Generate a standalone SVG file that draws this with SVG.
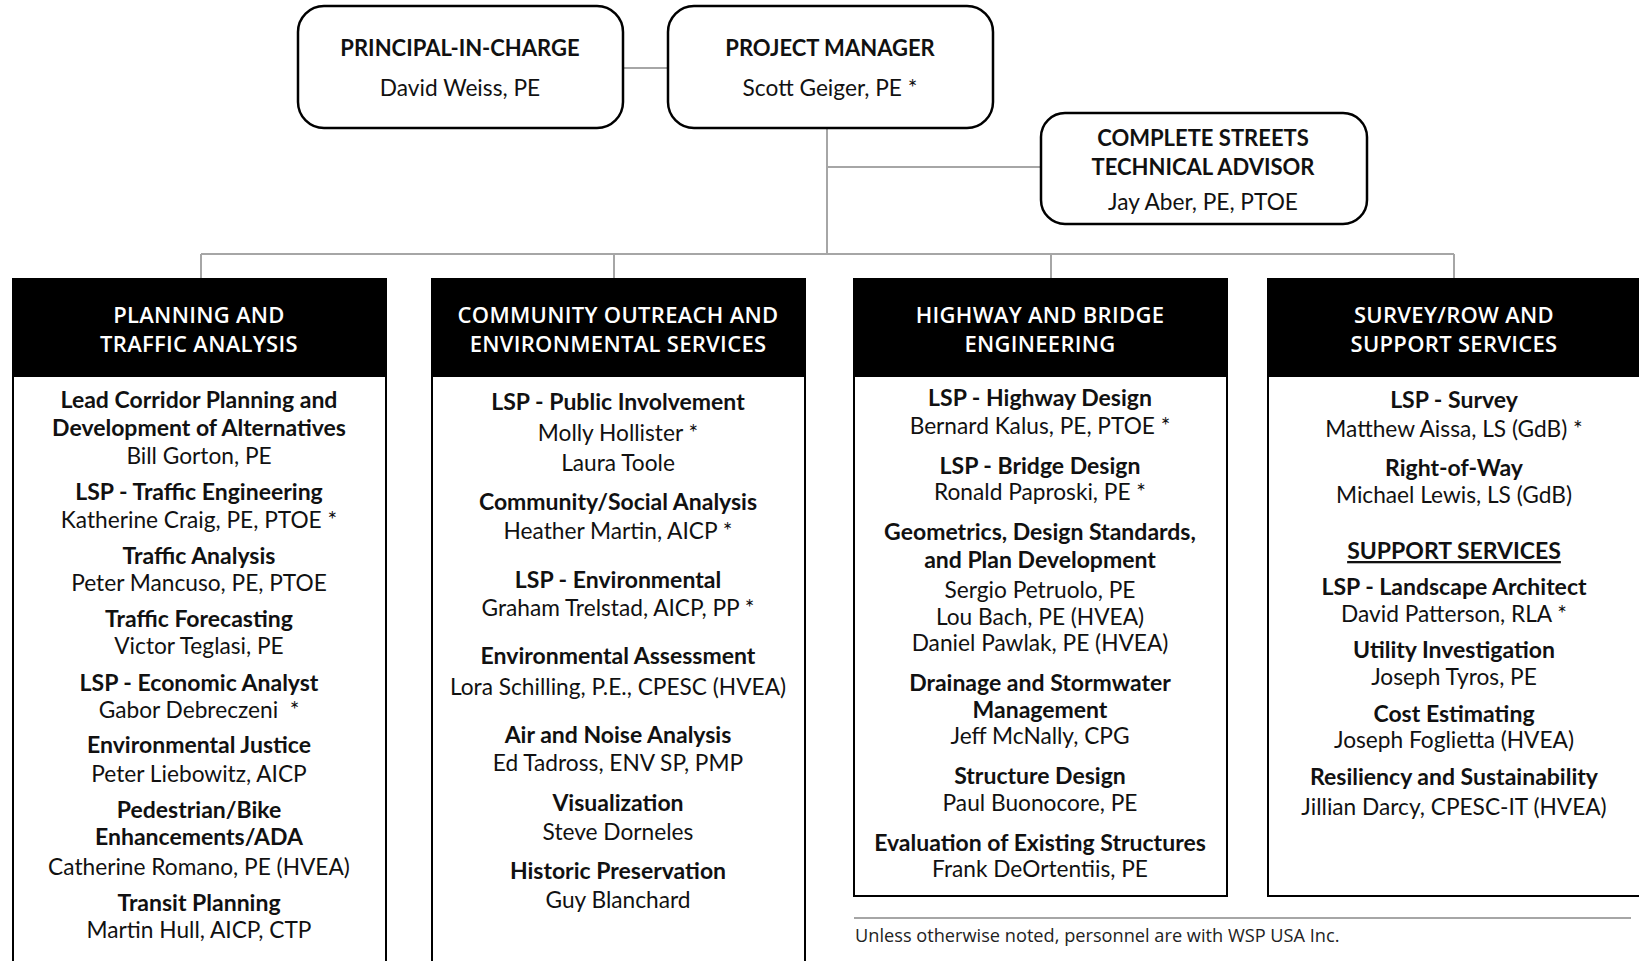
<svg xmlns="http://www.w3.org/2000/svg" width="1639" height="961" viewBox="0 0 1639 961">
<style>
.bg{fill:#fff}
.rbox{fill:#fff;stroke:#000;stroke-width:2.5}
.col{fill:#fff;stroke:#000;stroke-width:2}
.hdr{fill:#000}
.conn{stroke:#a6a6a6;stroke-width:2;fill:none}
text{font-family:Lato,"Liberation Sans",sans-serif;text-anchor:middle;fill:#111}
.t{font-size:23px;font-weight:700}
.n{font-size:22.7px;font-weight:400}
.h{font-family:"Open Sans","Liberation Sans",sans-serif;font-size:22px;font-weight:600;fill:#fff;letter-spacing:0.3px}
.tt{font-size:22px;font-weight:700}
.foot{font-family:"Open Sans","Liberation Sans",sans-serif;font-size:18.2px;text-anchor:start;fill:#222}
</style>
<rect class="bg" width="1639" height="961"/>
<g id="connectors">
<line class="conn" x1="623" y1="68" x2="668" y2="68"/>
<line class="conn" x1="827" y1="128" x2="827" y2="254"/>
<line class="conn" x1="827" y1="167" x2="1041" y2="167"/>
<line class="conn" x1="201" y1="254" x2="1454" y2="254"/>
<line class="conn" x1="201" y1="254" x2="201" y2="279"/>
<line class="conn" x1="614" y1="254" x2="614" y2="279"/>
<line class="conn" x1="1051" y1="254" x2="1051" y2="279"/>
<line class="conn" x1="1454" y1="254" x2="1454" y2="279"/>
<line class="conn" x1="854" y1="918" x2="1631" y2="918"/>
</g>
<g id="principal">
<rect class="rbox" x="298" y="6" width="325" height="122" rx="26"/>
<text class="tt" x="460" y="56">PRINCIPAL-IN-CHARGE</text>
<text class="n" x="460" y="96">David Weiss, PE</text>
</g>
<g id="project-manager">
<rect class="rbox" x="668" y="6" width="325" height="122" rx="26"/>
<text class="tt" x="830" y="56">PROJECT MANAGER</text>
<text class="n" x="830" y="96">Scott Geiger, PE *</text>
</g>
<g id="complete-streets">
<rect class="rbox" x="1041" y="113" width="326" height="111" rx="24"/>
<text class="tt" x="1203" y="146">COMPLETE STREETS</text>
<text class="tt" x="1203" y="175">TECHNICAL ADVISOR</text>
<text class="n" x="1203" y="210">Jay Aber, PE, PTOE</text>
</g>
<g id="planning">
<rect class="col" x="13" y="279" width="373" height="700"/>
<rect class="hdr" x="13" y="279" width="373" height="98"/>
<text class="h" x="199" y="323">PLANNING AND</text>
<text class="h" x="199" y="352">TRAFFIC ANALYSIS</text>
<text class="t" x="199" y="408">Lead Corridor Planning and</text>
<text class="t" x="199" y="436">Development of Alternatives</text>
<text class="n" x="199" y="464">Bill Gorton, PE</text>
<text class="t" x="199" y="500">LSP - Traffic Engineering</text>
<text class="n" x="199" y="528">Katherine Craig, PE, PTOE *</text>
<text class="t" x="199" y="564">Traffic Analysis</text>
<text class="n" x="199" y="591">Peter Mancuso, PE, PTOE</text>
<text class="t" x="199" y="627">Traffic Forecasting</text>
<text class="n" x="199" y="654">Victor Teglasi, PE</text>
<text class="t" x="199" y="691">LSP - Economic Analyst</text>
<text class="n" x="199" y="718" xml:space="preserve">Gabor Debreczeni  *</text>
<text class="t" x="199" y="753">Environmental Justice</text>
<text class="n" x="199" y="782">Peter Liebowitz, AICP</text>
<text class="t" x="199" y="818">Pedestrian/Bike</text>
<text class="t" x="199" y="845">Enhancements/ADA</text>
<text class="n" x="199" y="875">Catherine Romano, PE (HVEA)</text>
<text class="t" x="199" y="911">Transit Planning</text>
<text class="n" x="199" y="938">Martin Hull, AICP, CTP</text>
</g>
<g id="community">
<rect class="col" x="432" y="279" width="373" height="700"/>
<rect class="hdr" x="432" y="279" width="373" height="98"/>
<text class="h" x="618" y="323">COMMUNITY OUTREACH AND</text>
<text class="h" x="618" y="352">ENVIRONMENTAL SERVICES</text>
<text class="t" x="618" y="410">LSP - Public Involvement</text>
<text class="n" x="618" y="441">Molly Hollister *</text>
<text class="n" x="618" y="471">Laura Toole</text>
<text class="t" x="618" y="510">Community/Social Analysis</text>
<text class="n" x="618" y="539">Heather Martin, AICP *</text>
<text class="t" x="618" y="588">LSP - Environmental</text>
<text class="n" x="618" y="616">Graham Trelstad, AICP, PP *</text>
<text class="t" x="618" y="664">Environmental Assessment</text>
<text class="n" x="618" y="695">Lora Schilling, P.E., CPESC (HVEA)</text>
<text class="t" x="618" y="743">Air and Noise Analysis</text>
<text class="n" x="618" y="771">Ed Tadross, ENV SP, PMP</text>
<text class="t" x="618" y="811">Visualization</text>
<text class="n" x="618" y="840">Steve Dorneles</text>
<text class="t" x="618" y="879">Historic Preservation</text>
<text class="n" x="618" y="908">Guy Blanchard</text>
</g>
<g id="highway">
<rect class="col" x="854" y="279" width="373" height="617"/>
<rect class="hdr" x="854" y="279" width="373" height="98"/>
<text class="h" x="1040" y="323">HIGHWAY AND BRIDGE</text>
<text class="h" x="1040" y="352">ENGINEERING</text>
<text class="t" x="1040" y="406">LSP - Highway Design</text>
<text class="n" x="1040" y="434">Bernard Kalus, PE, PTOE *</text>
<text class="t" x="1040" y="474">LSP - Bridge Design</text>
<text class="n" x="1040" y="500">Ronald Paproski, PE *</text>
<text class="t" x="1040" y="540">Geometrics, Design Standards,</text>
<text class="t" x="1040" y="568">and Plan Development</text>
<text class="n" x="1040" y="598">Sergio Petruolo, PE</text>
<text class="n" x="1040" y="625">Lou Bach, PE (HVEA)</text>
<text class="n" x="1040" y="651">Daniel Pawlak, PE (HVEA)</text>
<text class="t" x="1040" y="691">Drainage and Stormwater</text>
<text class="t" x="1040" y="718">Management</text>
<text class="n" x="1040" y="744">Jeff McNally, CPG</text>
<text class="t" x="1040" y="784">Structure Design</text>
<text class="n" x="1040" y="811">Paul Buonocore, PE</text>
<text class="t" x="1040" y="851">Evaluation of Existing Structures</text>
<text class="n" x="1040" y="877">Frank DeOrtentiis, PE</text>
</g>
<g id="survey">
<rect class="col" x="1268" y="279" width="380" height="617"/>
<rect class="hdr" x="1268" y="279" width="380" height="98"/>
<text class="h" x="1454" y="323">SURVEY/ROW AND</text>
<text class="h" x="1454" y="352">SUPPORT SERVICES</text>
<text class="t" x="1454" y="408">LSP - Survey</text>
<text class="n" x="1454" y="437">Matthew Aissa, LS (GdB) *</text>
<text class="t" x="1454" y="476">Right-of-Way</text>
<text class="n" x="1454" y="503">Michael Lewis, LS (GdB)</text>
<text class="t" x="1454" y="559" text-decoration="underline">SUPPORT SERVICES</text>
<text class="t" x="1454" y="595">LSP - Landscape Architect</text>
<text class="n" x="1454" y="622">David Patterson, RLA *</text>
<text class="t" x="1454" y="658">Utility Investigation</text>
<text class="n" x="1454" y="685">Joseph Tyros, PE</text>
<text class="t" x="1454" y="722">Cost Estimating</text>
<text class="n" x="1454" y="748">Joseph Foglietta (HVEA)</text>
<text class="t" x="1454" y="785">Resiliency and Sustainability</text>
<text class="n" x="1454" y="815">Jillian Darcy, CPESC-IT (HVEA)</text>
</g>
<g id="footnote">
<text class="foot" x="855" y="942">Unless otherwise noted, personnel are with WSP USA Inc.</text>
</g>
</svg>
